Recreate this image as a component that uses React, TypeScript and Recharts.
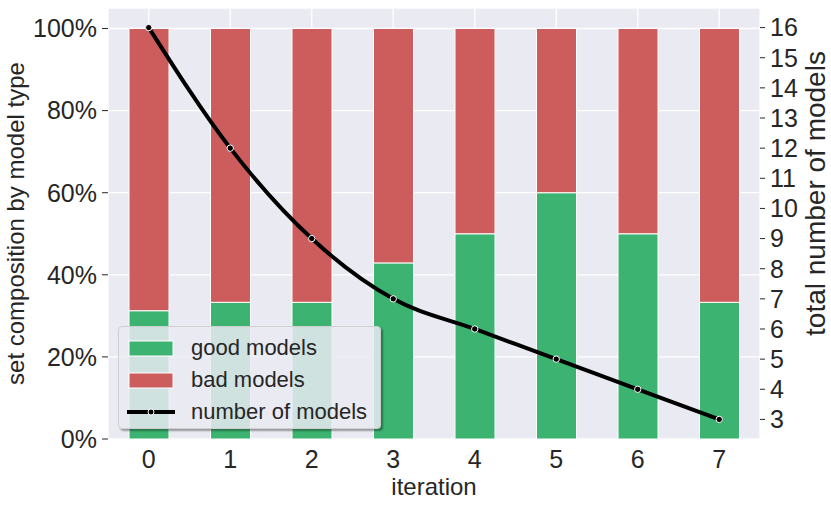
import React from 'react';
import { ComposedChart, Bar, Line, XAxis, YAxis, CartesianGrid, Label } from 'recharts';

const iterations = ['0', '1', '2', '3', '4', '5', '6', '7'];
const goodShare = [0.3125, 0.333, 0.333, 0.429, 0.5, 0.6, 0.5, 0.333];
const badShare = [0.6875, 0.667, 0.667, 0.571, 0.5, 0.4, 0.5, 0.667];
const modelCount = [16, 12, 9, 7, 6, 5, 4, 3];
const pctTicks = [0, 0.2, 0.4, 0.6, 0.8, 1];
const countTicks = [3, 4, 5, 6, 7, 8, 9, 10, 11, 12, 13, 14, 15, 16];

const GREEN = '#3CB371';
const RED = '#CD5C5C';
const TEXT = '#262626';
const FONT = '"Liberation Sans", Arial, sans-serif';

const data = iterations.map((it, i) => ({
  iteration: it,
  good: goodShare[i],
  bad: badShare[i],
  count: modelCount[i],
}));

const LineDot = (props: any) => {
  const { cx, cy } = props;
  return <circle cx={cx} cy={cy} r={3.2} fill="#000" stroke="#fff" strokeWidth={1} />;
};

const App = () => {
  const tickStyle = { fontSize: 25, fill: TEXT, fontFamily: FONT };
  return (
    <div style={{ position: 'absolute', left: 0, top: 0, width: 831, height: 507, background: '#fff', fontFamily: FONT }}>
      <ComposedChart width={831} height={507} data={data} margin={{ top: 8, right: 0, left: 0, bottom: 0 }} barCategoryGap={0}>
        <CartesianGrid yAxisId="left" fill="#EAEAF2" stroke="#fff" strokeWidth={1.3} />
        <XAxis
          dataKey="iteration"
          height={68}
          axisLine={false}
          tickLine={false}
          tickSize={0}
          tickMargin={11}
          tick={tickStyle}
        >
          <Label value="iteration" position="insideBottom" offset={12} style={{ fontSize: 24, fill: TEXT, fontFamily: FONT }} />
        </XAxis>
        <YAxis
          yAxisId="left"
          width={108}
          domain={[0, 1.05]}
          ticks={pctTicks}
          interval={0}
          allowDataOverflow
          axisLine={false}
          tickSize={6}
          tickMargin={5}
          tickLine={{ stroke: TEXT }}
          tick={tickStyle}
          tickFormatter={(v: number) => `${Math.round(v * 100)}%`}
        >
          <Label
            value="set composition by model type"
            angle={-90}
            position="insideLeft"
            offset={15}
            style={{ textAnchor: 'middle', fontSize: 24, fill: TEXT, fontFamily: FONT }}
          />
        </YAxis>
        <YAxis
          yAxisId="right"
          orientation="right"
          width={71}
          domain={[2.35, 16.65]}
          ticks={countTicks}
          interval={0}
          allowDataOverflow
          axisLine={false}
          tickSize={5}
          tickMargin={5}
          tickLine={{ stroke: TEXT }}
          tick={tickStyle}
        >
          <Label
            value="total number of models"
            angle={-90}
            position="insideRight"
            offset={16}
            dy={-30}
            style={{ textAnchor: 'middle', fontSize: 28, fill: TEXT, fontFamily: FONT }}
          />
        </YAxis>
        <Bar yAxisId="left" dataKey="good" stackId="s" fill={GREEN} stroke="#fff" strokeWidth={1} barSize={40} isAnimationActive={false} />
        <Bar yAxisId="left" dataKey="bad" stackId="s" fill={RED} stroke="#fff" strokeWidth={1} barSize={40} isAnimationActive={false} />
        <Line
          yAxisId="right"
          dataKey="count"
          type="monotone"
          stroke="#000"
          strokeWidth={4}
          dot={<LineDot />}
          activeDot={false}
          isAnimationActive={false}
        />
      </ComposedChart>
      <div
        style={{
          position: 'absolute',
          left: 118,
          top: 326,
          width: 261,
          height: 101,
          background: 'rgba(234,234,242,0.85)',
          border: '1px solid #cfcfcf',
          borderRadius: 4,
          boxShadow: '2px 2px 2px rgba(0,0,0,0.35)',
          fontSize: 22,
          color: TEXT,
        }}
      >
        {[
          { label: 'good models', kind: 'bar', color: GREEN },
          { label: 'bad models', kind: 'bar', color: RED },
          { label: 'number of models', kind: 'line', color: '#000' },
        ].map((item, i) => (
          <div key={item.label} style={{ position: 'absolute', left: 0, top: 6 + i * 32, height: 30, display: 'flex', alignItems: 'center' }}>
            <svg width={60} height={30} style={{ display: 'block' }}>
              {item.kind === 'bar' ? (
                <rect x={10} y={8} width={44} height={15} fill={item.color} stroke="#fff" strokeWidth={1} />
              ) : (
                <g>
                  <line x1={8} y1={15} x2={56} y2={15} stroke="#000" strokeWidth={4} />
                  <circle cx={32} cy={15} r={3} fill="#000" stroke="#fff" strokeWidth={1} />
                </g>
              )}
            </svg>
            <span style={{ marginLeft: 12, whiteSpace: 'nowrap', lineHeight: '30px' }}>{item.label}</span>
          </div>
        ))}
      </div>
    </div>
  );
};

export default App;
